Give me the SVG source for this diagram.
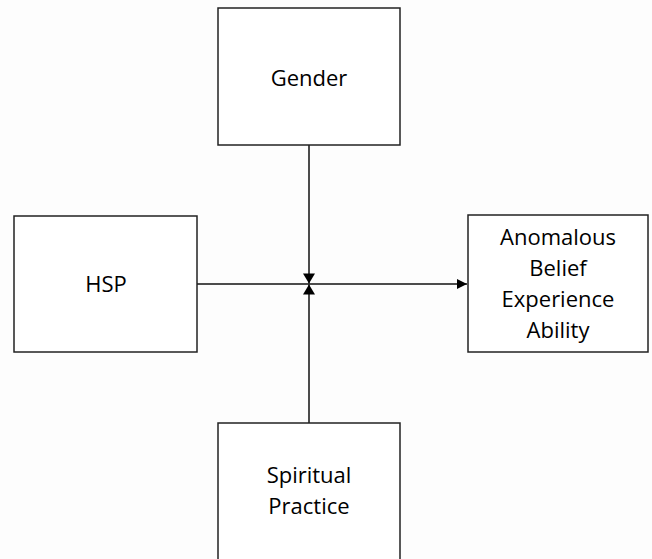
<svg xmlns="http://www.w3.org/2000/svg" width="652" height="559" viewBox="0 0 652 559">
<style>
.box{fill:#fff;stroke:#222;stroke-width:1.5}
.lbl{font-family:"Open Sans","Liberation Sans",sans-serif;font-size:22px;fill:#000;text-anchor:middle}
.ln{stroke:#111;stroke-width:1.5;fill:none}
</style>
<defs>
<marker id="ah" viewBox="0 0 10 10" refX="10" refY="5" markerWidth="11" markerHeight="10" markerUnits="userSpaceOnUse" orient="auto">
<path d="M0,0 L10,5 L0,10 Z" fill="#000"/>
</marker>
<marker id="ah2" viewBox="0 0 10 12" refX="10" refY="6" markerWidth="11" markerHeight="12" markerUnits="userSpaceOnUse" orient="auto">
<path d="M0,0 L10,6 L0,12 Z" fill="#000"/>
</marker>
</defs>
<rect width="652" height="559" fill="#fdfdfd"/>
<g id="connectors">
<line class="ln" x1="197" y1="284" x2="467" y2="284" marker-end="url(#ah)"/>
<line class="ln" x1="309" y1="145" x2="309" y2="283.5" marker-end="url(#ah2)"/>
<line class="ln" x1="309" y1="423" x2="309" y2="284.5" marker-end="url(#ah2)"/>
</g>
<g id="gender">
<rect class="box" x="218" y="8" width="182" height="137"/>
<text class="lbl" x="309" y="86">Gender</text>
</g>
<g id="hsp">
<rect class="box" x="14" y="216" width="183" height="136"/>
<text class="lbl" x="106" y="292">HSP</text>
</g>
<g id="anomalous">
<rect class="box" x="468" y="215" width="180" height="137"/>
<text class="lbl" x="558" y="245">Anomalous</text>
<text class="lbl" x="558" y="276">Belief</text>
<text class="lbl" x="558" y="307">Experience</text>
<text class="lbl" x="558" y="338">Ability</text>
</g>
<g id="spiritual">
<rect class="box" x="218" y="423" width="182" height="150"/>
<text class="lbl" x="309" y="483">Spiritual</text>
<text class="lbl" x="309" y="514">Practice</text>
</g>
</svg>
